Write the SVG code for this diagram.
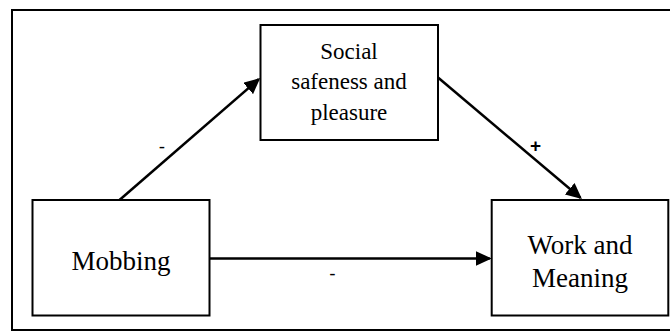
<svg xmlns="http://www.w3.org/2000/svg" width="670" height="331" viewBox="0 0 670 331">
  <defs>
    <style>
      .box { fill: #ffffff; stroke: #000000; stroke-width: 2; }
      .frame { fill: #ffffff; stroke: #000000; stroke-width: 2; }
      .lbl { fill: #000000; text-anchor: middle; }
      .sign { fill: #000000; text-anchor: middle; }
      .conn { fill: none; stroke: #000000; stroke-width: 2.5; marker-end: url(#arrow); }
    </style>
    <marker id="arrow" markerUnits="userSpaceOnUse" markerWidth="16" markerHeight="15" refX="14" refY="7.5" orient="auto">
      <path d="M0,0 L16,7.5 L0,15 Z" fill="#000000"/>
    </marker>
  </defs>

  <rect class="frame" x="12" y="10" width="662" height="320"/>

  <g id="connectors">
    <path class="conn" d="M119.5,200 L258.7,79.3"/>
    <path class="conn" d="M438,77.5 L580.4,197.7"/>
    <path class="conn" d="M209,258.5 L489.7,258.5"/>
    <text class="sign" font-family="'Liberation Sans', Arial, sans-serif" font-size="19" x="162" y="153">-</text>
    <text class="sign" font-family="'Liberation Sans', Arial, sans-serif" font-size="19" font-weight="bold" x="535.5" y="152">+</text>
    <text class="sign" font-family="'Liberation Sans', Arial, sans-serif" font-size="19" x="332.5" y="279.5">-</text>
  </g>

  <g id="social">
    <rect class="box" x="260.5" y="25" width="177.5" height="115"/>
    <text class="lbl" font-family="'Liberation Serif', 'Times New Roman', serif" font-size="23" x="349" y="58.5">Social</text>
    <text class="lbl" font-family="'Liberation Serif', 'Times New Roman', serif" font-size="23" x="349" y="89">safeness and</text>
    <text class="lbl" font-family="'Liberation Serif', 'Times New Roman', serif" font-size="23" x="349" y="119.5">pleasure</text>
  </g>

  <g id="mobbing">
    <rect class="box" x="32.5" y="200" width="177" height="115.5"/>
    <text class="lbl" font-family="'Liberation Serif', 'Times New Roman', serif" font-size="27" x="121" y="270">Mobbing</text>
  </g>

  <g id="work">
    <rect class="box" x="491.7" y="200" width="176.6" height="115.5"/>
    <text class="lbl" font-family="'Liberation Serif', 'Times New Roman', serif" font-size="27" x="580" y="253.5">Work and</text>
    <text class="lbl" font-family="'Liberation Serif', 'Times New Roman', serif" font-size="27" x="580" y="286.5">Meaning</text>
  </g>
</svg>
